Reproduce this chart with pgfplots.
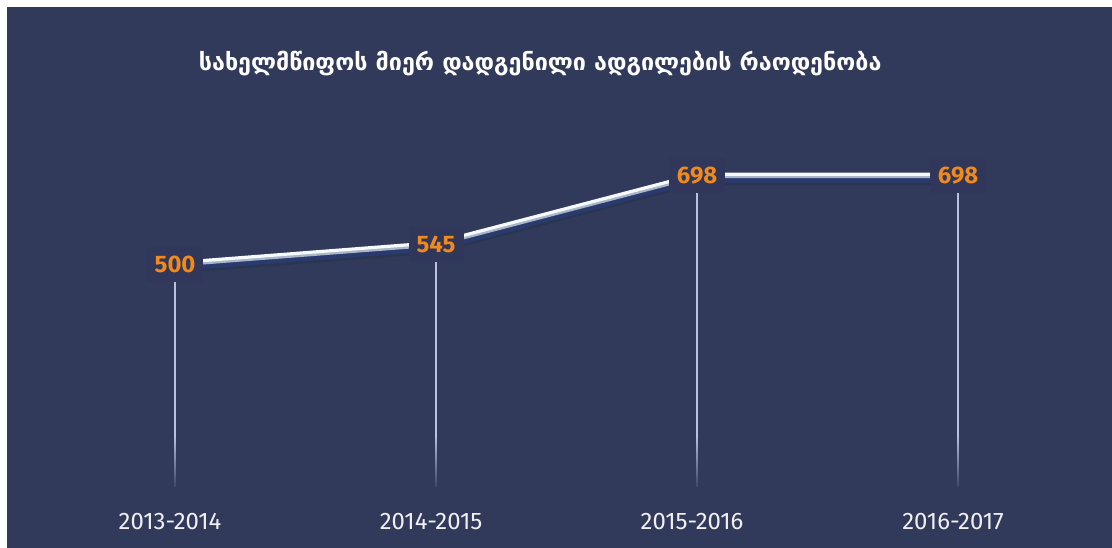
\documentclass[border=0pt]{standalone}
\usepackage{pgfplots}
\pgfplotsset{compat=1.18}
\usepackage{fontspec}
\setmainfont{Fira Sans}
\newfontfamily\geofont{DejaVu Sans}
\usetikzlibrary{fadings}
\definecolor{bgnavy}{HTML}{323A5C}
\definecolor{boxnavy}{HTML}{30375A}
\definecolor{vorange}{HTML}{F08A1C}
\definecolor{dropc}{HTML}{BCC0DC}
\definecolor{shadowc}{HTML}{2B3A6E}
\definecolor{shadow2c}{HTML}{2A3650}
\definecolor{midc}{HTML}{A8B6C8}
\definecolor{topc}{HTML}{F6FAFD}
\tikzfading[name=fadeup, top color=transparent!100, bottom color=transparent!0]
\begin{document}
\begin{tikzpicture}
\fill[white] (0,0) rectangle (1112bp,548bp);
\fill[bgnavy] (7bp,0) rectangle (1112bp,541bp);
\begin{axis}[
  at={(7bp,0bp)}, anchor=south west,
  scale only axis, width=1104bp, height=541bp,
  xmin=-0.644, xmax=3.586, ymin=-136.5, ymax=1074,
  axis line style={draw=none},
  major tick length=0pt,
  ytick=\empty,
  xtick={0,1,2,3},
  xticklabels={2013-2014,2014-2015,2015-2016,2016-2017},
  xticklabel style={anchor=center, yshift=26bp, xshift=-5bp, text=white!94!black, font=\fontsize{24}{26}\selectfont},
  title={\geofont\bfseries სახელმწიფოს მიერ დადგენილი ადგილების რაოდენობა},
  title style={at={(0.483,0.884)}, anchor=center, text=white, font=\fontsize{23.4}{26}\selectfont},
  /pgf/number format/assume math mode=true,
  clip=false,
]
\addplot[ycomb, draw=dropc, line width=2bp, mark=none] coordinates {(0,500)(1,545)(2,698)(3,698)};
\addplot[shadow2c, line width=4bp, yshift=-8bp, mark=none] coordinates {(0,500)(1,545)(2,698)(3,698)};
\addplot[shadowc, line width=6bp, yshift=-4.5bp, mark=none] coordinates {(0,500)(1,545)(2,698)(3,698)};
\addplot[midc, line width=3.5bp, yshift=-1.4bp, mark=none] coordinates {(0,500)(1,545)(2,698)(3,698)};
\addplot[topc, line width=3.2bp, yshift=0.8bp, mark=none,
  nodes near coords,
  every node near coord/.append style={anchor=center, yshift=-1.5bp, fill=boxnavy, text=vorange,
    inner xsep=8bp, inner ysep=9bp, font=\fontsize{24}{24}\selectfont\bfseries}
] coordinates {(0,500)(1,545)(2,698)(3,698)};
\end{axis}
\fill[bgnavy, path fading=fadeup] (100bp,56bp) rectangle (1050bp,112bp);
\pgfresetboundingbox
\path[use as bounding box] (0,0) rectangle (1112bp,548bp);
\end{tikzpicture}
\end{document}
